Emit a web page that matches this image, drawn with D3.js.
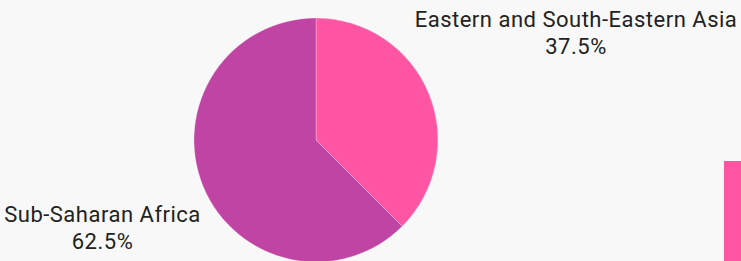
<!DOCTYPE html>
<html><head><meta charset="utf-8">
<script src="https://cdn.jsdelivr.net/npm/d3@7"></script>
<style>html,body{margin:0;padding:0;background:#f8f8f8;overflow:hidden}</style>
</head><body><svg id="c" width="741" height="261"></svg>
<script>
const categories = ["Eastern and South-Eastern Asia", "Sub-Saharan Africa"];
const values = [37.5, 62.5];
const labels = ["37.5%", "62.5%"];
const colors = ["#ff55a3", "#c044a3"];

const svg = d3.select("#c");
svg.append("rect").attr("width", 741).attr("height", 261).attr("fill", "#f8f8f8");

const cx = 316, cy = 140, r = 122;
const pie = d3.pie().sort(null).value(d => d)(values);
const arc = d3.arc().innerRadius(0).outerRadius(r);
const g = svg.append("g").attr("transform", `translate(${cx},${cy})`);
g.selectAll("path").data(pie).join("path")
  .attr("d", arc)
  .attr("fill", (d, i) => colors[i])
  .attr("stroke", "#f8f8f8").attr("stroke-width", 0.3);

const labelPos = [[576, 26.7], [102.5, 221.7]];
const lg = svg.append("g").attr("font-family", "Roboto, sans-serif").attr("font-size", 22)
  .attr("letter-spacing", 0.5).attr("fill", "#222").attr("text-anchor", "middle");
categories.forEach((c, i) => {
  const t = lg.append("text").attr("x", labelPos[i][0]).attr("y", labelPos[i][1]);
  t.append("tspan").attr("x", labelPos[i][0]).text(c);
  t.append("tspan").attr("x", labelPos[i][0]).attr("dy", 27).text(labels[i]);
});

svg.append("rect").attr("x", 724).attr("y", 161).attr("width", 17).attr("height", 100).attr("fill", colors[0]);
</script></body></html>
